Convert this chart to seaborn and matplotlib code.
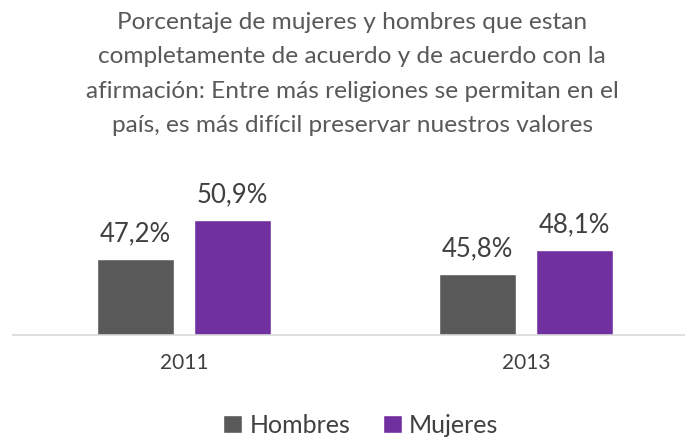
import matplotlib
matplotlib.use("Agg")
import pandas as pd
import seaborn as sns
import matplotlib.pyplot as plt
from matplotlib.patches import Patch

# Data
years = ["2011", "2013"]
hombres = [47.2, 45.8]
mujeres = [50.9, 48.1]
groups = ["Hombres", "Mujeres"]
colors = ["#595959", "#7030A0"]

df = pd.DataFrame({
    "Year": years * 2,
    "Grupo": ["Hombres"] * len(years) + ["Mujeres"] * len(years),
    "Valor": hombres + mujeres,
})

sns.set_style("white")
plt.rcParams["font.family"] = ["Lato", "DejaVu Sans"]

fig = plt.figure(figsize=(6.85, 4.37), dpi=100)
ax = fig.add_axes([13 / 685, (437 - 335) / 437, 684 / 685, 160 / 437])

sns.barplot(data=df, x="Year", y="Valor", hue="Grupo", palette=colors,
            width=0.567, gap=0.21, ax=ax, legend=False, saturation=1)

ax.set_ylim(40, 55.2)
ax.set_xlim(-0.5, 1.5)
ax.set_yticks([])
ax.set_xlabel("")
ax.set_ylabel("")
for s in ["top", "left", "right"]:
    ax.spines[s].set_visible(False)
ax.spines["bottom"].set_color("#d9d9d9")
ax.spines["bottom"].set_linewidth(1.2)
ax.tick_params(axis="x", length=0, pad=13, labelsize=15, labelcolor="#404040")

# value labels
for cont in ax.containers:
    ax.bar_label(cont, labels=[f"{v:.1f}%".replace(".", ",") for v in cont.datavalues],
                 padding=9, fontsize=18.5, color="#404040")

title = ("Porcentaje de mujeres y hombres que estan\n"
         "completamente de acuerdo y de acuerdo con la\n"
         "afirmación: Entre más religiones se permitan en el\n"
         "país, es más difícil preservar nuestros valores")
fig.text(0.514, 0.972, title, ha="center", va="top", fontsize=17.6,
         color="#595959", linespacing=1.78)

handles = [Patch(facecolor=c, label=g) for g, c in zip(groups, colors)]
fig.legend(handles=handles, loc="center", bbox_to_anchor=(0.527, 0.027), ncol=2,
           frameon=False, fontsize=18, labelcolor="#404040", handlelength=0.75,
           handleheight=0.75, handletextpad=0.3, columnspacing=1.3)

fig.savefig("out.png", dpi=100)
